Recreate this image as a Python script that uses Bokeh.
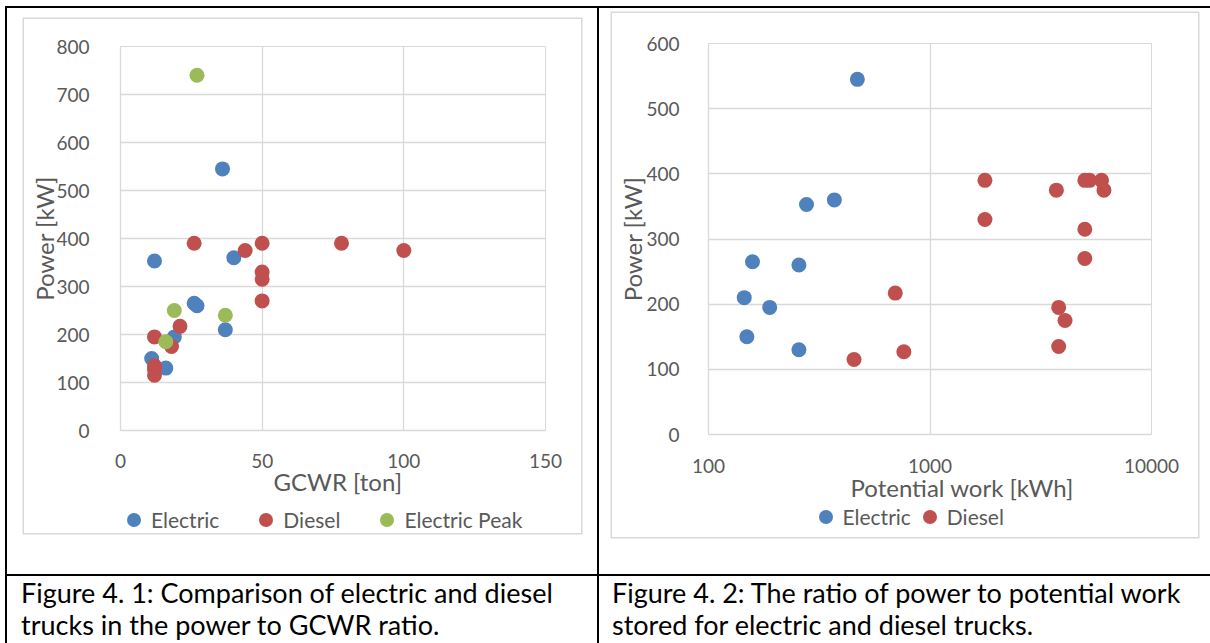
from bokeh.plotting import figure
from bokeh.models import Range1d, Legend, LegendItem, Div, FixedTicker, NumeralTickFormatter, Title
from bokeh.layouts import row, column
from bokeh.embed import file_html
from bokeh.resources import INLINE

# ---- Figure 4.1: power vs. gross combined weight rating ----
electric_gcwr = [12, 36, 40, 26, 27, 37, 19, 11, 16]
electric_power = [353, 545, 360, 265, 260, 210, 195, 150, 130]
diesel_gcwr = [26, 44, 50, 78, 100, 50, 50, 50, 21, 12, 18, 12, 12, 12]
diesel_power = [390, 375, 390, 390, 375, 330, 315, 270, 217, 195, 175, 135, 127, 115]
peak_gcwr = [27, 19, 37, 16]
peak_power = [740, 250, 240, 185]
gcwr_ticks = [0, 50, 100, 150]
gcwr_power_ticks = [0, 100, 200, 300, 400, 500, 600, 700, 800]

# ---- Figure 4.2: power vs. potential work stored ----
electric_work = [470, 277, 370, 158, 256, 145, 189, 149, 256]
electric_work_power = [545, 353, 360, 265, 260, 210, 195, 150, 130]
diesel_work = [697, 454, 762, 1770, 1770, 3720, 5000, 5250, 5950, 6100, 5000, 5000, 3810, 4070, 3810]
diesel_work_power = [217, 115, 127, 390, 330, 375, 390, 390, 390, 375, 315, 270, 195, 175, 135]
work_ticks = [100, 1000, 10000]
work_power_ticks = [0, 100, 200, 300, 400, 500, 600]

captions = [
    "Figure 4. 1: Comparison of electric and diesel<br>trucks in the power to GCWR ratio.",
    "Figure 4. 2: The ratio of power to potential work<br>stored for electric and diesel trucks.",
]

BLUE = "#4f81bd"
RED = "#c0504d"
GREEN = "#9bbb59"
GRID = "#d9d9d9"
TEXT = "#595959"
FONT = "Lato"
CHART_BORDER = {"box-shadow": "0 0 0 1.5px #d9d9d9"}
NAN = float("nan")


def style(p, xlabel, ylabel, xticks, yticks, title_shift, title_std, ylabel_std, ytick_std, xtick_std):
    p.background_fill_color = "white"
    p.border_fill_color = "white"
    p.outline_line_color = GRID
    p.outline_line_width = 1
    p.xaxis.ticker = FixedTicker(ticks=xticks)
    p.yaxis.ticker = FixedTicker(ticks=yticks)
    p.xgrid.ticker = FixedTicker(ticks=xticks)
    p.ygrid.ticker = FixedTicker(ticks=yticks)
    for g in (p.xgrid, p.ygrid):
        g.grid_line_color = GRID
        g.grid_line_width = 1.3
    for ax in (p.xaxis, p.yaxis):
        ax.axis_line_color = GRID
        ax.axis_line_width = 1.3
        ax.major_tick_line_color = None
        ax.minor_tick_line_color = None
        ax.major_label_text_font = FONT
        ax.major_label_text_font_size = "19px"
        ax.major_label_text_color = TEXT
        ax.axis_label_text_font = FONT
        ax.axis_label_text_font_size = "24px"
        ax.axis_label_text_font_style = "normal"
        ax.axis_label_text_color = TEXT
    p.yaxis.axis_label = ylabel
    p.xaxis.major_label_standoff = xtick_std
    p.yaxis.major_label_standoff = ytick_std
    p.yaxis.axis_label_standoff = ylabel_std
    # horizontal axis title, set just under the tick labels
    p.add_layout(
        Title(text=xlabel, align="left", offset=title_shift, standoff=title_std,
              text_font=FONT, text_font_size="24px", text_font_style="normal",
              text_color=TEXT),
        "below",
    )


def legend_strip(width, height, entries, x, y, spacing):
    """A borderless strip under a chart that carries its legend."""
    lf = figure(width=width, height=height, x_range=Range1d(0, 1), y_range=Range1d(0, 1),
                output_backend="svg", toolbar_location=None, min_border=0,
                x_axis_location=None, y_axis_location=None)
    lf.outline_line_color = None
    lf.background_fill_color = "white"
    lf.border_fill_color = "white"
    lf.grid.visible = False
    items = []
    for label, color in entries:
        # legend key only: a single undefined point, so nothing lands in the strip itself
        key = lf.scatter([NAN], [NAN], size=15, fill_color=color, line_color=None)
        items.append(LegendItem(label=label, renderers=[key]))
    lf.add_layout(Legend(
        items=items, orientation="horizontal", location=(x, y),
        glyph_width=35, glyph_height=35, label_standoff=0, spacing=spacing,
        padding=0, margin=0, border_line_color=None, background_fill_alpha=0,
        label_text_font=FONT, label_text_font_size="21px", label_text_color=TEXT,
    ))
    return lf


# Chart 1
p1 = figure(
    width=557, height=486,
    x_range=Range1d(0, 150), y_range=Range1d(0, 800),
    output_backend="svg", toolbar_location=None,
    min_border_left=96, min_border_right=36, min_border_top=27, min_border_bottom=75,
)
style(p1, "GCWR [ton]", "Power [kW]", gcwr_ticks, gcwr_power_ticks, 153, -12, -6, 25, 17)
p1.scatter(electric_gcwr, electric_power, size=15, fill_color=BLUE, line_color=None)
p1.scatter(diesel_gcwr, diesel_power, size=15, fill_color=RED, line_color=None)
p1.scatter(peak_gcwr, peak_power, size=15, fill_color=GREEN, line_color=None)
leg1 = legend_strip(557, 28, [("Electric", BLUE), ("Diesel", RED), ("Electric Peak", GREEN)],
                    -4, -4, 29)
chart1 = column(p1, leg1, margin=(11, 16, 41, 17), styles=CHART_BORDER)

# Chart 2
p2 = figure(
    width=586, height=491,
    x_axis_type="log",
    x_range=Range1d(100, 10000), y_range=Range1d(0, 600),
    output_backend="svg", toolbar_location=None,
    min_border_left=96, min_border_right=47, min_border_top=30, min_border_bottom=70,
)
style(p2, "Potential work [kWh]", "Power [kW]", work_ticks, work_power_ticks, 142, -10, -4, 23, 18)
p2.xaxis.formatter = NumeralTickFormatter(format="0")
p2.scatter(electric_work, electric_work_power, size=15, fill_color=BLUE, line_color=None)
p2.scatter(diesel_work, diesel_work_power, size=15, fill_color=RED, line_color=None)
leg2 = legend_strip(586, 33, [("Electric", BLUE), ("Diesel", RED)], 99.5, 3.5, 1)
chart2 = column(p2, leg2, margin=(5, 12, 37, 13), styles=CHART_BORDER)


def block(w, h, color=None):
    st = {"background-color": color} if color else {}
    return Div(text="", width=w, height=h, margin=0, styles=st)


def caption(txt, w, pad):
    html = (
        f'<div style="font-family: Lato; font-size: 27px; line-height: 32px; color: #000; '
        f'padding-left: {pad}px; padding-top: 1px; white-space: nowrap;">{txt}</div>'
    )
    return Div(text=html, width=w, height=67, margin=0)


layout = column(
    block(1210, 6),
    row(block(5, 2), block(1205, 2, "black")),
    row(block(5, 566), block(2, 566, "black"), chart1, block(2, 566, "black"), chart2),
    row(block(5, 2), block(1205, 2, "black")),
    row(block(5, 67), block(2, 67, "black"), caption(captions[0], 590, 14),
        block(2, 67, "black"), caption(captions[1], 611, 13)),
)

open("out.html", "w").write(file_html(layout, INLINE))
